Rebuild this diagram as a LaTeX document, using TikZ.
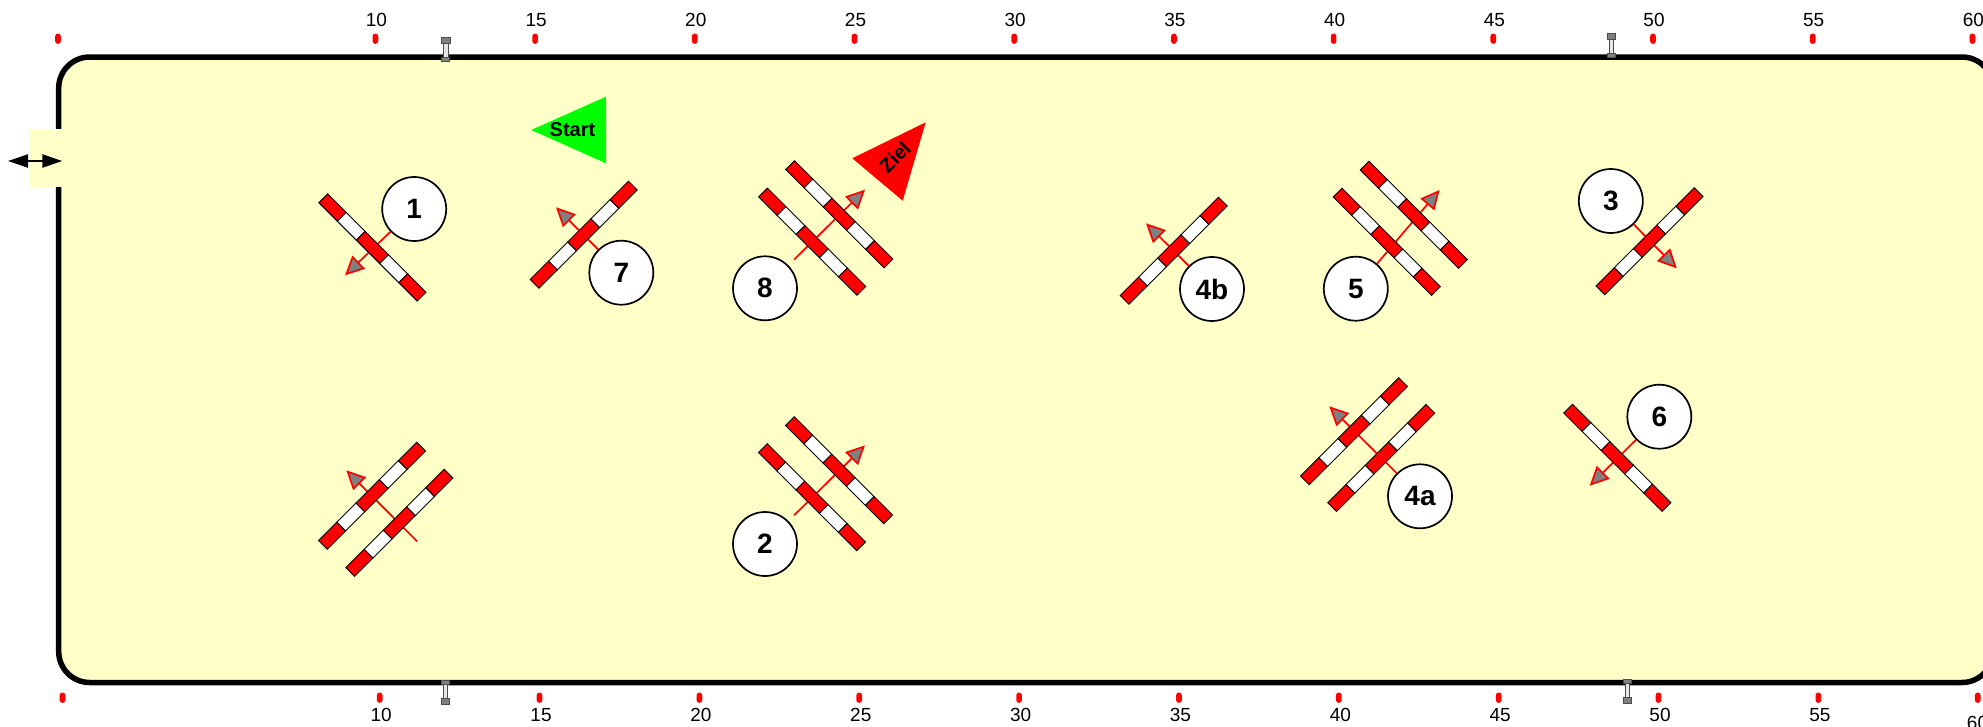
\documentclass[tikz,border=0pt]{standalone}
\usepackage{fontspec}
\setmainfont{Liberation Sans}
\usetikzlibrary{arrows.meta}
\definecolor{arena}{HTML}{FFFFC8}
\begin{document}
\begin{tikzpicture}
[
    x=1pt, y=-1pt,
    fence/.style={draw=black, line width=5.5pt, fill=arena, rounded corners=31pt},
    tick/.style={fill=red, rounded corners=2.8pt, minimum width=5.7pt, minimum height=10.4pt, inner sep=0pt},
    ticklabel/.style={inner sep=0pt, font=\fontsize{19}{19}\selectfont},
    marker/.style={inner sep=0pt, font=\bfseries\fontsize{20}{20}\selectfont},
    number/.style={circle, draw=black, fill=white, line width=1.7pt, minimum size=64pt, inner sep=0pt, font=\bfseries\fontsize{28}{28}\selectfont},
    course/.style={draw=red, line width=1.7pt, -{Triangle[length=19pt, width=18pt, fill=gray]}},
    gate/.style={line width=2.3pt, {Triangle[length=20pt, width=13pt]}-{Triangle[length=20pt, width=13pt]}},
    rail/.style={draw=black, line width=0.9pt},
    pics/hurdle/.style={code={
        \path[rail, fill=red] (-69.5,-6.2) rectangle (-43.5,6.2);
        \path[rail, fill=white] (-43.5,-6.2) rectangle (-16.5,6.2);
        \path[rail, fill=red] (-16.5,-6.2) rectangle (16.5,6.2);
        \path[rail, fill=white] (16.5,-6.2) rectangle (43.5,6.2);
        \path[rail, fill=red] (43.5,-6.2) rectangle (69.5,6.2);
    }},
    pics/stand/.style={code={
        \path[draw=black!70, line width=0.9pt, fill=black!10] (-2.3,5) rectangle (2.3,21);
        \path[draw=black!70, line width=0.9pt, fill=gray] (-4.3,0) rectangle (4.3,6);
        \path[draw=black!70, line width=0.9pt, fill=gray] (-4,20) rectangle (4,24);
    }},
]
\clip (0,0) rectangle (1983,726);
\path[fence] (58.7,57) rectangle (1993,682.5);
\fill[arena] (30,129) rectangle (61.5,186.7);
\coordinate (gateout) at (8,161);
\coordinate (gatein) at (62.3,161);
\draw[gate] (gateout) -- (gatein);

\node[tick] (topzero) at (58,38.7) {};
\node[tick] (botzero) at (62.5,697.7) {};
\foreach \n in {10,15,...,60} {
    \pgfmathsetmacro{\xtop}{56+31.94*\n}
    \node[tick] (top\n) at (\xtop,38.7) {};
    \node[ticklabel] (toplabel\n) at (\xtop+1,20) {\n};
}
\foreach \n in {10,15,...,55} {
    \pgfmathsetmacro{\xbot}{60+31.97*\n}
    \node[tick] (bot\n) at (\xbot,697.7) {};
    \node[ticklabel] (botlabel\n) at (\xbot+1.5,714.7) {\n};
}
\node[tick] (bot60) at (1977.7,697.7) {};
\node[ticklabel] (botlabel60) at (1977.5,722.5) {60};

\pic at (445.7,37.3) {stand};
\pic at (1611.3,33) {stand};
\pic[rotate=180] at (445.5,704.7) {stand};
\pic[rotate=180] at (1627.6,703.5) {stand};

\fill[green] (531.2,130) -- (606,96.7) -- (606,163.3) -- cycle;
\node[marker] (start) at (572.5,129.5) {Start};
\fill[red] (852.3,158.3) -- (925.7,122.3) -- (902.7,200.7) -- cycle;
\node[marker, rotate=45] (ziel) at (895,157.3) {Ziel};

\node[number] (n1) at (414.2,209) {1};
\node[number] (n7) at (621.3,272.7) {7};
\node[number] (n8) at (765,288.3) {8};
\node[number] (n4b) at (1212,289) {4b};
\node[number] (n5) at (1355.8,288.7) {5};
\node[number] (n3) at (1610.8,201) {3};
\node[number] (n2) at (765,544) {2};
\node[number] (n4a) at (1420,496.3) {4a};
\node[number] (n6) at (1659.3,416.7) {6};

\coordinate (tip1) at (345,275.3);
\coordinate (tip7) at (556,207.3);
\coordinate (tip8) at (865,189.7);
\coordinate (tip4b) at (1146,223.3);
\coordinate (tip5) at (1439.6,190);
\coordinate (tip3) at (1676.8,268.3);
\coordinate (tip2) at (865,445.3);
\coordinate (tip4a) at (1329.3,406.3);
\coordinate (tip6) at (1589.7,485.7);
\coordinate (tail9) at (417,541.3);
\coordinate (tip9) at (346.3,470.3);

\draw[course] (n1) -- (tip1);
\draw[course] (n7) -- (tip7);
\draw[course, shorten <=8pt] (n8) -- (tip8);
\draw[course] (n4b) -- (tip4b);
\draw[course] (n5) -- (tip5);
\draw[course] (n3) -- (tip3);
\draw[course, shorten <=8pt] (n2) -- (tip2);
\draw[course] (n4a) -- (tip4a);
\draw[course] (n6) -- (tip6);
\draw[course] (tail9) -- (tip9);

\pic[rotate=-45] at (372.4,247.5) {hurdle};
\pic[rotate=45] at (583.7,234.7) {hurdle};
\pic[rotate=-45] at (812.2,241.7) {hurdle};
\pic[rotate=-45] at (839.3,214.3) {hurdle};
\pic[rotate=45] at (1173.7,250.7) {hurdle};
\pic[rotate=-45] at (1386.8,241.8) {hurdle};
\pic[rotate=-45] at (1413.8,214.8) {hurdle};
\pic[rotate=45] at (1649.5,241.2) {hurdle};
\pic[rotate=45] at (372,495.7) {hurdle};
\pic[rotate=45] at (399.4,522.8) {hurdle};
\pic[rotate=-45] at (812,497.3) {hurdle};
\pic[rotate=-45] at (839,470.3) {hurdle};
\pic[rotate=45] at (1354,431.2) {hurdle};
\pic[rotate=45] at (1381.3,458) {hurdle};
\pic[rotate=-45] at (1617.3,457.8) {hurdle};
\end{tikzpicture}
\end{document}
